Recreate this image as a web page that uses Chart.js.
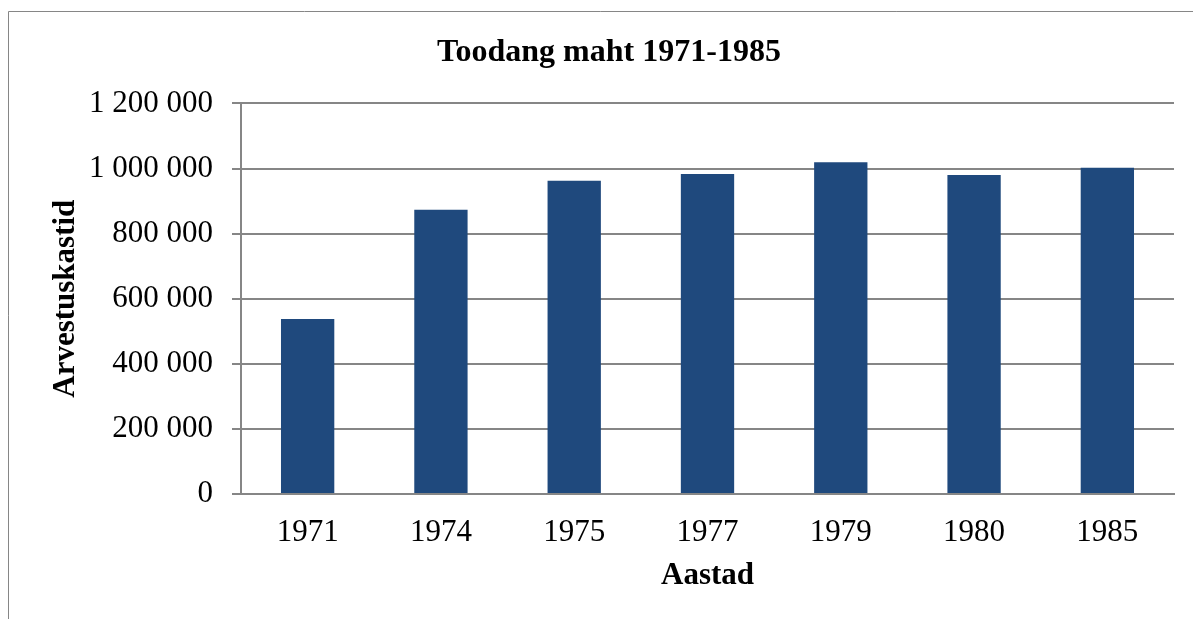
<!DOCTYPE html>
<html>
<head>
<meta charset="utf-8">
<title>Toodang maht 1971-1985</title>
<script src="https://cdn.jsdelivr.net/npm/chart.js@4.4.1/dist/chart.umd.min.js"></script>
<style>
  body { margin: 0; background: #fff; }
  #wrap { width: 1193px; height: 619px; }
</style>
</head>
<body>
<div id="wrap"><canvas id="toodangChart" width="1193" height="619"></canvas></div>
<script>
// andmed pildilt loetud
const years = ["1971", "1974", "1975", "1977", "1979", "1980", "1985"];
const amounts = [538000, 873000, 962000, 983000, 1019000, 980000, 1002000];
const yTicks = [0, 200000, 400000, 600000, 800000, 1000000, 1200000];

const serif = "'Liberation Serif', 'Times New Roman', serif";

function spaced(n) {
  return String(n).replace(/\B(?=(\d{3})+(?!\d))/g, " ");
}

// raam vasakul ja üleval nagu Exceli pildil
const frame = {
  id: "frame",
  beforeDraw(chart) {
    const c = chart.ctx;
    c.save();
    c.fillStyle = "#fff";
    c.fillRect(0, 0, chart.width, chart.height);
    c.strokeStyle = "#868686";
    c.lineWidth = 1;
    c.beginPath();
    c.moveTo(8.5, chart.height);
    c.lineTo(8.5, 11.5);
    c.lineTo(chart.width, 11.5);
    c.stroke();
    c.restore();
  }
};

const ctx = document.getElementById("toodangChart").getContext("2d");

new Chart(ctx, {
  type: "bar",
  data: {
    labels: years,
    datasets: [{
      label: "Arvestuskastid",
      data: amounts,
      backgroundColor: "#1F497D",
      barPercentage: 0.4,
      categoryPercentage: 1.0
    }]
  },
  options: {
    responsive: false,
    animation: false,
    layout: { padding: { left: 44, right: 19, top: 0, bottom: 0 } },
    plugins: {
      legend: { display: false },
      tooltip: { enabled: false },
      title: {
        display: true,
        text: "Toodang maht 1971-1985",
        color: "#000",
        font: { family: serif, size: 32, weight: "bold" },
        padding: { top: 34, bottom: 31 }
      }
    },
    scales: {
      x: {
        grid: { display: false, drawTicks: false },
        border: { display: true, color: "#868686", width: 2 },
        ticks: {
          color: "#000",
          font: { family: serif, size: 31 },
          padding: 20,
          maxRotation: 0
        },
        title: {
          display: true,
          text: "Aastad",
          color: "#000",
          font: { family: serif, size: 31, weight: "bold" },
          padding: { top: 0, bottom: 24 }
        },
        afterFit(scale) { scale.height = 125; }
      },
      y: {
        min: 0,
        max: 1200000,
        afterBuildTicks(scale) {
          scale.ticks = yTicks.map(v => ({ value: v }));
        },
        grid: { color: "#868686", lineWidth: 2, tickLength: 9 },
        border: { display: true, color: "#868686", width: 2 },
        ticks: {
          color: "#000",
          font: { family: serif, size: 31 },
          padding: 19,
          callback: v => spaced(v)
        },
        title: {
          display: true,
          text: "Arvestuskastid",
          color: "#000",
          font: { family: serif, size: 31, weight: "bold" },
          padding: { top: 3, bottom: 0 }
        },
        afterFit(scale) { scale.width = 197; }
      }
    }
  },
  plugins: [frame]
});
</script>
</body>
</html>
